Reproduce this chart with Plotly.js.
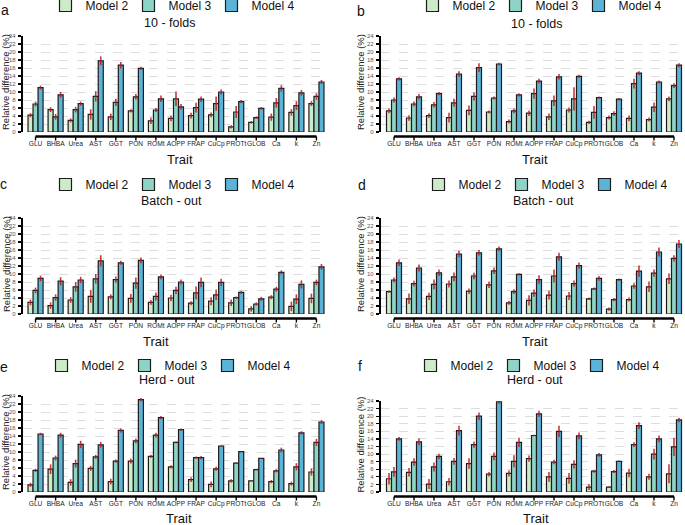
<!DOCTYPE html>
<html>
<head>
<meta charset="utf-8">
<script src="https://cdn.plot.ly/plotly-3.0.1.min.js"></script>
<style>html,body{margin:0;padding:0;background:#fff}#chart{width:685px;height:525px}</style>
</head>
<body>
<div id="chart"></div>
<script>
// ---------- DATA ----------
const traits = ['GLU','BHBA','Urea','AST','GGT','PON','ROMt','AOPP','FRAP','CuCp','PROTt','GLOB','Ca','k','Zn'];
const models = ['Model 2','Model 3','Model 4'];
const panelLetters = ['a','b','c','d','e','f'];
const panelSubtitles = ['10 - folds','10 - folds','Batch - out','Batch - out','Herd - out','Herd - out'];

// panel a (10 - folds, left)
const aM2 = [4.2,5.6,2.9,4.4,3.8,5.3,2.8,3.4,4.1,4.3,1.3,2.4,3.7,4.9,7.1];
const aM3 = [7.0,3.8,5.6,8.9,7.4,8.8,5.5,8.3,6.1,7.1,5.0,3.6,7.3,6.6,8.9];
const aM4 = [11.1,9.3,7.1,17.8,16.7,15.9,8.3,6.3,8.2,10.0,7.6,5.9,10.9,9.8,12.5];
const aE2 = [0.5,0.6,0.5,1.3,0.8,0.4,0.8,0.7,0.7,0.6,0.4,0.3,0.9,0.8,0.6];
const aE3 = [0.6,0.7,0.7,1.3,0.9,0.7,0.5,1.8,1.2,1.8,1.5,0.3,1.2,1.1,0.8];
const aE4 = [0.5,0.7,0.5,1.1,0.8,0.4,0.8,0.7,0.7,0.6,0.4,0.3,0.8,0.7,0.5];

// panel b (10 - folds, right)
const bM2 = [5.3,3.5,4.1,3.6,5.4,5.0,2.6,4.7,3.8,5.5,2.4,3.6,3.4,3.1,8.3];
const bM3 = [8.0,7.0,6.8,7.3,8.9,8.5,5.3,9.6,7.8,8.3,4.9,4.6,12.1,6.2,11.6];
const bM4 = [13.3,8.8,9.6,14.5,16.1,17.0,9.3,12.7,13.8,13.9,8.6,8.2,14.7,12.5,16.7];
const bE2 = [0.6,0.7,0.6,1.2,1.2,0.4,0.5,0.7,0.8,0.6,0.4,0.5,0.7,0.5,0.6];
const bE3 = [0.6,0.6,0.7,1.0,1.0,0.4,0.6,1.3,1.3,2.9,1.6,0.6,1.2,1.2,0.6];
const bE4 = [0.4,0.7,0.4,0.7,1.1,0.3,0.4,0.6,0.7,0.4,0.3,0.3,0.5,0.4,0.5];

// panel c (Batch - out, left)
const cM2 = [2.9,2.1,3.5,4.4,4.3,3.9,2.9,4.0,2.7,3.2,2.8,1.3,4.2,1.9,3.9];
const cM3 = [5.9,4.1,6.8,8.8,8.6,7.7,4.4,5.9,5.3,4.8,4.1,2.5,6.2,3.7,7.9];
const cM4 = [8.9,8.2,8.5,13.3,12.8,13.4,9.3,8.0,7.9,7.9,5.4,3.8,10.4,7.4,11.8];
const cE2 = [0.7,0.8,0.7,1.6,0.6,1.1,0.6,0.8,0.5,1.0,0.8,0.7,0.5,1.2,1.2];
const cE3 = [0.7,0.8,1.2,1.2,0.8,1.4,1.0,0.9,1.6,1.3,0.3,0.4,0.6,1.2,0.7];
const cE4 = [0.7,1.0,0.8,1.4,0.5,0.7,0.6,0.6,1.2,0.9,0.4,0.5,0.5,1.0,0.7];

// panel d (Batch - out, right)
const dM2 = [5.6,3.8,4.4,7.5,5.7,7.3,2.8,3.4,4.7,4.5,3.8,1.2,3.6,6.8,8.8];
const dM3 = [8.5,7.6,7.4,9.3,9.5,10.8,5.6,5.2,9.5,7.6,6.3,3.6,7.0,10.2,13.9];
const dM4 = [12.8,11.5,10.3,15.0,15.3,16.3,9.9,8.6,14.3,12.1,8.9,8.6,10.7,15.5,17.5];
const dE2 = [0.3,1.3,0.9,0.9,0.7,0.8,0.5,1.3,1.1,1.0,0.3,0.4,0.5,1.3,1.3];
const dE3 = [0.6,0.7,1.2,1.1,0.8,0.8,0.6,0.9,1.6,0.8,0.3,0.4,0.7,0.9,0.8];
const dE4 = [0.8,0.9,0.8,0.8,0.7,0.6,0.3,1.1,1.0,0.8,0.6,0.3,1.4,1.1,1.0];

// panel e (Herd - out, left)
const eM2 = [1.8,5.7,2.4,5.9,2.6,7.7,8.9,6.3,3.1,1.9,2.8,2.8,2.6,2.1,5.0];
const eM3 = [5.4,8.5,7.1,8.8,7.7,12.8,14.2,12.4,8.6,5.8,7.2,5.6,5.3,6.3,12.4];
const eM4 = [14.5,14.2,11.9,11.8,15.4,23.1,18.6,15.6,8.6,11.5,10.1,8.4,10.5,14.8,17.5];
const eE2 = [0.5,1.2,0.8,0.6,0.7,0.6,0.4,0.4,0.6,0.7,0.4,0.1,0.4,0.5,0.9];
const eE3 = [0.4,0.6,1.0,0.5,0.4,0.6,0.6,0.2,0.3,0.5,0.2,0.2,0.4,0.9,0.9];
const eE4 = [0.3,0.6,0.9,0.7,0.5,0.4,0.4,0.3,0.4,0.2,0.1,0.1,0.6,0.4,0.5];

// panel f (Herd - out, right)
const fM2 = [3.5,5.2,2.1,2.7,7.5,4.7,4.9,8.8,4.0,3.6,1.3,1.3,5.0,4.0,4.8];
const fM3 = [5.3,7.9,6.6,8.1,12.5,9.4,8.1,14.9,7.9,7.3,5.5,5.4,12.5,10.0,11.9];
const fM4 = [14.0,13.2,9.4,16.2,20.0,23.8,13.1,20.6,16.0,14.8,9.8,8.1,17.5,14.0,19.0];
const fE2 = [1.5,1.1,1.3,1.0,1.4,0.6,0.8,0.8,1.3,1.4,0.8,0.2,1.1,0.8,2.5];
const fE3 = [1.3,1.0,1.2,0.9,0.8,1.0,1.6,0.2,0.6,1.1,0.4,0.4,0.6,1.4,2.4];
const fE4 = [0.5,0.9,0.7,1.3,1.0,0.5,1.2,0.8,1.5,0.9,0.5,0.2,0.9,0.9,0.6];

const panelValues = [[aM2,aM3,aM4],[bM2,bM3,bM4],[cM2,cM3,cM4],[dM2,dM3,dM4],[eM2,eM3,eM4],[fM2,fM3,fM4]];
const panelErrors = [[aE2,aE3,aE4],[bE2,bE3,bE4],[cE2,cE3,cE4],[dE2,dE3,dE4],[eE2,eE3,eE4],[fE2,fE3,fE4]];

// ---------- STYLE / GEOMETRY (pixels in a 685x525 canvas) ----------
const W = 685, H = 525;
const colors = ['#cdebc8','#8dd4c6','#5bb3d8'];
const FONT = 'Liberation Sans, Arial, sans-serif';
const px = v => v / W;
const py = v => 1 - v / H;

const geo = [
  {x0:23, x1:329, yTop:36,  yBot:132, xr:[-0.625,14.625], legX:170, legY:5,   subX:169, subY:23,  letX:5,   letY:10,  trX:180, trY:159, ytX:5},
  {x0:381,x1:685, yTop:36,  yBot:132, xr:[-0.65,14.55],   legX:537, legY:5,   subX:536, subY:24,  letX:361, letY:11,  trX:535, trY:159, ytX:360},
  {x0:23, x1:329, yTop:218, yBot:314, xr:[-0.625,14.625], legX:170, legY:184, subX:171, subY:201, letX:3,   letY:184, trX:156, trY:341, ytX:6},
  {x0:381,x1:685, yTop:218, yBot:314, xr:[-0.65,14.55],   legX:543, legY:184, subX:543, subY:201, letX:362, letY:185, trX:535, trY:341, ytX:360},
  {x0:23, x1:329, yTop:396, yBot:492, xr:[-0.625,14.625], legX:166, legY:365, subX:167, subY:380, letX:4,   letY:367, trX:179, trY:518, ytX:5},
  {x0:381,x1:685, yTop:401, yBot:492, xr:[-0.65,14.55],   legX:535, legY:365, subX:535, subY:380, letX:360, letY:366, trX:536, trY:518, ytX:360}
];

const traces = [];
const layout = {
  width: W, height: H,
  margin: {l:0, r:0, t:0, b:0, autoexpand: false},
  paper_bgcolor: '#fff', plot_bgcolor: '#fff',
  barmode: 'group', bargap: 0.25, bargroupgap: 0,
  font: {family: FONT, color: '#111'},
  showlegend: true,
  annotations: [], shapes: []
};

geo.forEach((g, p) => {
  const n = p + 1;
  const xa = n === 1 ? 'x' : 'x' + n;
  const ya = n === 1 ? 'y' : 'y' + n;
  const legName = n === 1 ? 'legend' : 'legend' + n;

  models.forEach((m, k) => {
    traces.push({
      type: 'bar', name: m, x: traits, y: panelValues[p][k],
      xaxis: xa, yaxis: ya, legend: legName,
      marker: {color: colors[k], line: {color: '#1c1c1c', width: 1.2}},
      error_y: {type: 'data', array: panelErrors[p][k], visible: true,
                color: 'rgba(185,25,30,0.85)', thickness: 1.6, width: 0}
    });
  });

  layout['xaxis' + (n === 1 ? '' : n)] = {
    domain: [px(g.x0), px(g.x1)], anchor: ya, range: g.xr,
    type: 'category', tickmode: 'linear', tick0: 0, dtick: 1,
    showline: false, showgrid: false, zeroline: false, ticks: '',
    tickangle: 0, tickfont: {size: 6.6, color: '#222', family: FONT},
    ticklabelstandoff: 6, automargin: false, fixedrange: true
  };
  layout['yaxis' + (n === 1 ? '' : n)] = {
    domain: [py(g.yBot), py(g.yTop)], anchor: xa, range: [0, 24],
    tickmode: 'linear', tick0: 0, dtick: 2,
    showline: true, linecolor: '#000', linewidth: 2.2,
    ticks: 'outside', ticklen: 3, tickwidth: 1.2, tickcolor: '#000',
    tickfont: {size: 6, color: '#555', family: FONT}, ticklabelstandoff: 1,
    showgrid: true, gridcolor: '#cfcfcf', gridwidth: 0.7, griddash: 'dash',
    zeroline: false, automargin: false, fixedrange: true
  };

  layout[legName] = {
    orientation: 'h', x: px(g.legX), y: py(g.legY - 14), xanchor: 'center', yanchor: 'top',
    font: {size: 12, family: FONT, color: '#111'}, bgcolor: 'rgba(0,0,0,0)',
    itemwidth: 30, entrywidth: 38, entrywidthmode: 'pixels',
    traceorder: 'normal', itemclick: false
  };

  // range-frame x axis line and ticks (from first to last category)
  const axisY = g.yBot + 4.5;
  layout.shapes.push({type: 'line', xref: xa, yref: 'paper', x0: 0, x1: traits.length - 1,
    y0: py(axisY), y1: py(axisY), line: {color: '#000', width: 2.6}});
  traits.forEach((t, i) => {
    layout.shapes.push({type: 'line', xref: xa, yref: 'paper', x0: i, x1: i,
      y0: py(axisY), y1: py(axisY + 4), line: {color: '#000', width: 1.4}});
  });

  layout.annotations.push(
    {text: panelLetters[p], xref: 'paper', yref: 'paper', x: px(g.letX), y: py(g.letY),
     xanchor: 'center', yanchor: 'middle', showarrow: false, font: {size: 14, family: FONT, color: '#111'}},
    {text: panelSubtitles[p], xref: 'paper', yref: 'paper', x: px(g.subX), y: py(g.subY),
     xanchor: 'center', yanchor: 'middle', showarrow: false, font: {size: 12.5, family: FONT, color: '#111'}},
    {text: 'Trait', xref: 'paper', yref: 'paper', x: px(g.trX), y: py(g.trY),
     xanchor: 'center', yanchor: 'middle', showarrow: false, font: {size: 13, family: FONT, color: '#111'}},
    {text: 'Relative difference (%)', xref: 'paper', yref: 'paper', x: px(g.ytX), y: py((g.yTop + g.yBot) / 2 - 2),
     xanchor: 'center', yanchor: 'middle', textangle: -90, showarrow: false, font: {size: 9.5, family: FONT, color: '#222'}}
  );
});

Plotly.newPlot('chart', traces, layout, {displayModeBar: false, staticPlot: true});
</script>
</body>
</html>
